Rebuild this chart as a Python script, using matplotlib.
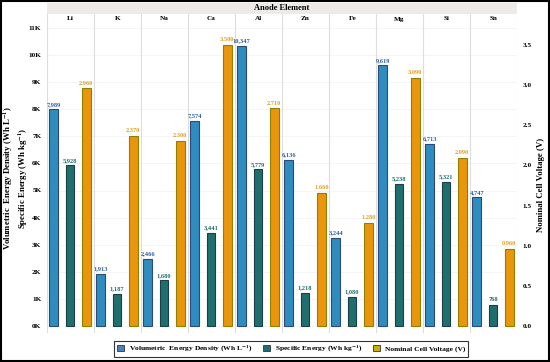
import matplotlib
matplotlib.use("Agg")
import matplotlib.pyplot as plt
import numpy as np
from matplotlib.patches import Rectangle, Patch

elements = ["Li", "K", "Na", "Ca", "Al", "Zn", "Fe", "Mg", "Si", "Sn"]
volumetric = [7989, 1913, 2466, 7574, 10347, 6136, 3244, 9619, 6713, 4747]
specific = [5928, 1187, 1680, 3441, 5779, 1218, 1080, 5238, 5321, 768]
voltage = [2.960, 2.370, 2.300, 3.500, 2.710, 1.660, 1.280, 3.090, 2.090, 0.960]
left_ticks = [0, 1, 2, 3, 4, 5, 6, 7, 8, 9, 10, 11]
right_ticks = [0.0, 0.5, 1.0, 1.5, 2.0, 2.5, 3.0, 3.5]

plt.rcParams['font.family'] = ['Liberation Serif', 'DejaVu Serif']
plt.rcParams['font.weight'] = 'bold'
plt.rcParams['mathtext.fontset'] = 'stix'

W, H = 550, 362
fig = plt.figure(figsize=(W/100, H/100), dpi=100)

def fx(px): return px / W
def fy(py): return 1 - py / H

ax_left, ax_right, ax_top, ax_bot = 47, 517, 14, 333
ax = fig.add_axes([fx(ax_left), fy(ax_bot), fx(ax_right - ax_left), (ax_bot - ax_top) / H])

zero_y = 326
px_per_k = 27.1
px_per_v = 80.3
ax.set_ylim(-(ax_bot - zero_y) / px_per_k, (zero_y - ax_top) / px_per_k)
ax.set_xlim(0, len(elements))

c_vol = '#2E8CBF'
c_vol_edge = '#2B4A7A'
c_spec = '#1F6F6F'
c_spec_edge = '#1B3F45'
c_volt = '#E9960C'
c_volt_edge = '#8F8000'
c_vol_txt = '#2F5F9F'
c_spec_txt = '#1F6F6F'
c_volt_txt = '#E0A020'

x = np.arange(len(elements)) + 0.49
w = 0.185
off = 0.345

vk = np.array(volumetric) / 1000
sk = np.array(specific) / 1000
ax.bar(x - off, vk, w, color=c_vol, edgecolor=c_vol_edge, linewidth=0.8, zorder=3)
ax.bar(x, sk, w, color=c_spec, edgecolor=c_spec_edge, linewidth=0.8, zorder=3)

ax2 = ax.twinx()
ax2.set_ylim(-(ax_bot - zero_y) / px_per_v, (zero_y - ax_top) / px_per_v)
ax2.bar(x + off, voltage, w, color=c_volt, edgecolor=c_volt_edge, linewidth=0.8, zorder=3)

fs_lbl = 4.6
for xi, v in zip(x - off, volumetric):
    ax.text(xi, v / 1000 + 0.1, f"{v:,}", ha='center', va='bottom', fontsize=fs_lbl,
            color=c_vol_txt, fontweight='bold', zorder=5)
for xi, v in zip(x, specific):
    ax.text(xi, v / 1000 + 0.1, f"{v:,}", ha='center', va='bottom', fontsize=fs_lbl,
            color=c_spec_txt, fontweight='bold', zorder=5)
for xi, v in zip(x + off, voltage):
    ax2.text(xi, v + 0.035, f"{v:.3f}", ha='center', va='bottom', fontsize=fs_lbl,
             color=c_volt_txt, fontweight='bold', zorder=5)

# panel separators & grid
for i in range(len(elements) + 1):
    ax.axvline(i, color='#DDDDDD', linewidth=0.8, zorder=1)
for t in left_ticks:
    ax.axhline(t, color='#F2F2F2', linewidth=0.5, zorder=0)

ax.set_yticks(left_ticks)
ax.set_yticklabels([f"{t}K" for t in left_ticks], fontsize=5.2, fontweight='bold')
ax.set_xticks([])
ax2.set_yticks(right_ticks)
ax2.set_yticklabels([f"{t:.1f}" for t in right_ticks], fontsize=5.2, fontweight='bold')
for a in (ax, ax2):
    for s in a.spines.values():
        s.set_visible(False)
ax.tick_params(length=0, pad=4)
ax2.tick_params(length=0, pad=4)

# element labels
for i, el in enumerate(elements):
    ax.text(i + 0.5, (zero_y - 19) / px_per_k, el, ha='center', va='center',
            fontsize=5.2, fontweight='bold')

# top strip
fig.patches.append(Rectangle((fx(47), fy(14)), fx(517 - 47), 11 / H, transform=fig.transFigure,
                             facecolor='#EEEAE8', edgecolor='none'))
fig.text(fx(282), fy(8.5), "Anode Element", ha='center', va='center', fontsize=6, fontweight='bold')

# axis labels
fig.text(fx(8), fy(178), r"Volumetric  Energy Density (Wh L$^{\mathbf{-1}}$)", rotation=90,
         ha='center', va='center', fontsize=6.3, fontweight='bold')
fig.text(fx(23), fy(178), r"Specific Energy (Wh kg$^{\mathbf{-1}}$)", rotation=90,
         ha='center', va='center', fontsize=6.3, fontweight='bold')
fig.text(fx(541), fy(185), "Nominal Cell Voltage (V)", rotation=90,
         ha='center', va='center', fontsize=6.3, fontweight='bold')

# legend
handles = [Patch(facecolor='#4A7FC0', edgecolor='#333333', linewidth=0.6),
           Patch(facecolor=c_spec, edgecolor='#333333', linewidth=0.6),
           Patch(facecolor='#C8B000', edgecolor='#333333', linewidth=0.6)]
labels = [r"Volumetric  Energy Density (Wh L$^{\mathbf{-1}}$)",
          r"Specific Energy (Wh kg$^{\mathbf{-1}}$)",
          "Nominal Cell Voltage (V)"]
leg = fig.legend(handles, labels, loc='center', bbox_to_anchor=(fx(291), fy(349)), ncol=3,
                 fontsize=5.4, frameon=True, fancybox=False, edgecolor='black',
                 handlelength=1.0, handleheight=1.0, handletextpad=0.6, columnspacing=1.4,
                 borderpad=0.4)
leg.get_frame().set_linewidth(0.8)

# figure border
fig.patches.append(Rectangle((0.002, 0.003), 0.996, 0.994, transform=fig.transFigure,
                             facecolor='none', edgecolor='black', linewidth=1.5))

fig.savefig("out.png", dpi=100)
